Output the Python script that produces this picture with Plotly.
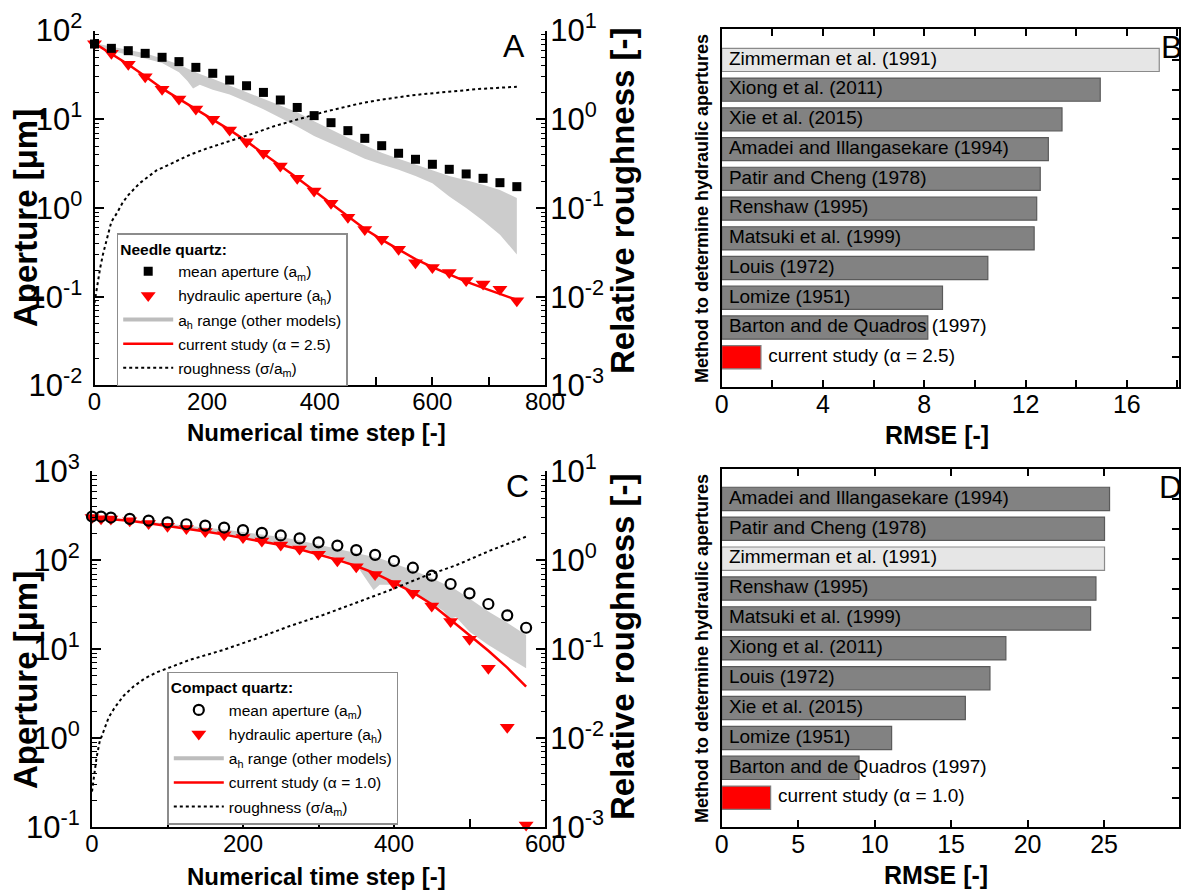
import plotly.graph_objects as go

W, H = 1181, 893
FONT = "Liberation Sans, Arial, sans-serif"


def px(x):
    return x / W


def py(y):
    return 1 - y / H


# ---------------- Panel A (needle quartz) ----------------
a_t = [0, 30, 60, 90, 120, 150, 180, 210, 240, 270, 300, 330, 360, 390, 420,
       450, 480, 510, 540, 570, 600, 630, 660, 690, 720, 750]
a_mean = [70.6, 63.1, 59.4, 55.4, 50.0, 44.7, 38.5, 33.0, 27.7, 23.9, 20.1, 16.5,
          13.6, 11.0, 9.16, 7.45, 6.10, 5.04, 4.14, 3.54, 3.11, 2.73, 2.42, 2.16,
          1.93, 1.74]
a_hyd = [71, 55.5, 41.7, 30.2, 21.8, 16.9, 13.1, 10.0, 7.57, 5.60, 4.13, 2.97,
         2.16, 1.55, 1.13, 0.785, 0.574, 0.443, 0.342, 0.242, 0.214, 0.187,
         0.152, 0.139, 0.121, 0.090]
a_fit = [72, 55, 41.5, 30.5, 22.3, 17.0, 13.0, 10.0, 7.6, 5.65, 4.15, 3.0, 2.18,
         1.57, 1.13, 0.80, 0.58, 0.44, 0.34, 0.265, 0.215, 0.177, 0.148, 0.126,
         0.108, 0.092]
a_band_t = [0, 30, 60, 90, 120, 150, 165, 175, 187, 210, 240, 270, 300, 330, 360,
            390, 420, 450, 480, 510, 540, 570, 600, 630, 660, 690, 720, 750]
a_band_hi = [72, 66, 60, 55.5, 48.5, 41.5, 37.5, 35.2, 32.5, 28.7, 24.2, 20.2,
             17.0, 14.3, 12.0, 9.5, 7.6, 6.2, 5.1, 4.2, 3.6, 3.1, 2.7, 2.3, 2.05,
             1.83, 1.6, 1.30]
a_band_lo = [70, 59, 53, 48.5, 43, 34, 27, 22.3, 24.5, 21.5, 19.0, 15.8, 13.0,
             10.5, 8.3, 6.5, 5.3, 4.4, 3.6, 3.1, 2.7, 2.3, 1.9, 1.35, 1.0, 0.72,
             0.5, 0.30]
a_rough_t = [0, 5, 10, 15, 20, 25, 30, 40, 50, 60, 80, 110, 140, 170, 200, 230,
             260, 290, 320, 350, 380, 410, 440, 470, 500, 530, 560, 590, 620, 650,
             680, 710, 750]
a_rough = [0.0085, 0.014, 0.021, 0.03, 0.041, 0.053, 0.07, 0.088, 0.115, 0.14,
           0.19, 0.265, 0.325, 0.4, 0.47, 0.54, 0.62, 0.72, 0.84, 0.96, 1.08,
           1.22, 1.36, 1.5, 1.63, 1.75, 1.85, 1.94, 2.03, 2.11, 2.19, 2.25, 2.33]

# ---------------- Panel C (compact quartz) ----------------
c_t = [0, 12, 25, 50, 75, 100, 125, 150, 175, 200, 225, 250, 275, 300, 325, 350,
       375, 400, 425, 450, 475, 500, 525, 550, 575]
c_mean = [310, 310, 302, 292, 279, 267, 254, 245, 233, 218, 203, 190, 176, 159,
          146, 130, 115, 98, 82.4, 67, 54, 42.4, 32.2, 24, 17.4]
c_hyd = [303, 292, 290, 278, 258, 241, 227, 210, 194, 180, 164, 148, 134, 117,
         98.8, 84.6, 69.3, 54.9, 42.4, 30.5, 20.4, 12.9, 6.08, 1.32, 0.105]
c_fit_t = [0, 25, 50, 75, 100, 125, 150, 175, 200, 225, 250, 275, 300, 325, 350,
           375, 400, 425, 450, 475, 500, 525, 550, 575]
c_fit = [300, 290, 278, 260, 243, 227, 210, 194, 178, 163, 148, 133, 117, 101,
         86, 71, 56, 43.5, 32, 21.5, 14.5, 9.6, 6.2, 3.8]
c_band_t = [0, 25, 50, 75, 100, 125, 150, 175, 200, 225, 250, 275, 300, 325, 350,
            373, 381, 400, 425, 450, 465, 474, 482, 500, 525, 550, 575]
c_band_hi = [300, 295, 285, 270, 258, 245, 236, 222, 208, 196, 182, 167, 150, 136,
             122, 109, 105, 92, 77, 63, 55, 50, 46.5, 37, 26.5, 19.8, 14.4]
c_band_lo = [296, 288, 276, 259, 243, 228, 212, 196, 181, 167, 153, 138, 121, 105,
             89, 46, 53, 53, 43, 33, 27, 22, 23, 15.7, 11.1, 8.2, 6.1]
c_rough_t = [0, 3, 6, 10, 15, 22, 30, 42, 55, 70, 86, 108, 130, 174, 218, 262, 306,
             350, 395, 439, 483, 527, 575]
c_rough = [0.0025, 0.004, 0.006, 0.009, 0.012, 0.017, 0.022, 0.030, 0.038, 0.047,
           0.055, 0.065, 0.076, 0.098, 0.132, 0.182, 0.242, 0.333, 0.462, 0.653,
           0.883, 1.28, 1.84]

# ---------------- Panel B / D (RMSE) ----------------
b_methods = ["Zimmerman et al. (1991)", "Xiong et al. (2011)", "Xie et al. (2015)",
             "Amadei and Illangasekare (1994)", "Patir and Cheng (1978)",
             "Renshaw (1995)", "Matsuki et al. (1999)", "Louis (1972)",
             "Lomize (1951)", "Barton and de Quadros (1997)",
             "current study (α = 2.5)"]
b_rmse = [17.28, 14.95, 13.44, 12.9, 12.58, 12.44, 12.34, 10.51, 8.72, 8.14, 1.55]

d_methods = ["Amadei and Illangasekare (1994)", "Patir and Cheng (1978)",
             "Zimmerman et al. (1991)", "Renshaw (1995)", "Matsuki et al. (1999)",
             "Xiong et al. (2011)", "Louis (1972)", "Xie et al. (2015)",
             "Lomize (1951)", "Barton and de Quadros (1997)",
             "current study (α = 1.0)"]
d_rmse = [25.36, 25.03, 25.03, 24.47, 24.12, 18.58, 17.54, 15.93, 11.11, 8.98, 3.2]

fig = go.Figure()

BAND = "#cccccc"
RED = "#ff0000"


def add_aperture_panel(xa, ya, yr, leg, t, mean, hyd, fit_t, fit, bt, bhi, blo,
                       rt, rough, mean_marker, alpha_txt):
    fig.add_trace(go.Scatter(x=bt + bt[::-1], y=bhi + blo[::-1], fill="toself",
                             fillcolor=BAND, line=dict(width=0), mode="lines",
                             hoverinfo="skip", showlegend=False, xaxis=xa, yaxis=ya))
    fig.add_trace(go.Scatter(x=rt, y=rough, mode="lines",
                             line=dict(color="black", width=2, dash="dot"),
                             showlegend=False, xaxis=xa, yaxis=yr, cliponaxis=False))
    fig.add_trace(go.Scatter(x=fit_t, y=fit, mode="lines",
                             line=dict(color=RED, width=2.5), showlegend=False,
                             xaxis=xa, yaxis=ya))
    fig.add_trace(go.Scatter(x=t, y=hyd, mode="markers",
                             marker=dict(symbol="triangle-down", size=13, color=RED),
                             showlegend=False, xaxis=xa, yaxis=ya, cliponaxis=False))
    fig.add_trace(go.Scatter(x=t, y=mean, mode="markers", marker=mean_marker,
                             showlegend=False, xaxis=xa, yaxis=ya, cliponaxis=False))
    # legend entries
    common = dict(x=[None], y=[None], xaxis=xa, yaxis=ya, legend=leg)
    fig.add_trace(go.Scatter(mode="markers", marker=mean_marker,
                             name="mean aperture (a<sub>m</sub>)", legendgroup=leg + "1",
                             **common))
    fig.add_trace(go.Scatter(mode="markers",
                             marker=dict(symbol="triangle-down", size=13, color=RED),
                             name="hydraulic aperture (a<sub>h</sub>)",
                             legendgroup=leg + "2", **common))
    fig.add_trace(go.Scatter(mode="lines", line=dict(color="#bdbdbd", width=4),
                             name="a<sub>h</sub> range (other models)",
                             legendgroup=leg + "3", **common))
    fig.add_trace(go.Scatter(mode="lines", line=dict(color=RED, width=2.5),
                             name="current study (α = %s)" % alpha_txt,
                             legendgroup=leg + "4", **common))
    fig.add_trace(go.Scatter(mode="lines",
                             line=dict(color="black", width=2, dash="dot"),
                             name="roughness (σ/a<sub>m</sub>)",
                             legendgroup=leg + "5", **common))


add_aperture_panel("x", "y", "y2", "legend", a_t, a_mean, a_hyd, a_t, a_fit,
                   a_band_t, a_band_hi, a_band_lo, a_rough_t, a_rough,
                   dict(symbol="square", size=9, color="black"), "2.5")
add_aperture_panel("x3", "y4", "y5", "legend2", c_t, c_mean, c_hyd, c_fit_t, c_fit,
                   c_band_t, c_band_hi, c_band_lo, c_rough_t, c_rough,
                   dict(symbol="circle-open", size=10, color="black",
                        line=dict(width=2.2, color="black")), "1.0")


def bar_colors(names):
    fills, lines = [], []
    for n in names:
        if n.startswith("current"):
            fills.append(RED); lines.append("#7f7f7f")
        elif n.startswith("Zimmerman"):
            fills.append("#e6e6e6"); lines.append("#8a8a8a")
        else:
            fills.append("#828282"); lines.append("#5a5a5a")
    return fills, lines


def add_bar_panel(xa, ya, names, vals):
    fills, lines = bar_colors(names)
    fig.add_trace(go.Bar(x=vals, y=names, orientation="h", width=0.78,
                         marker=dict(color=fills, line=dict(color=lines, width=1.2)),
                         showlegend=False, xaxis=xa, yaxis=ya))
    lx = [v if n.startswith("current") else 0 for n, v in zip(names, vals)]
    fig.add_trace(go.Scatter(x=lx, y=names, mode="markers+text", text=names,
                             textposition="middle right",
                             marker=dict(size=10, opacity=0),
                             textfont=dict(size=19, color="black", family=FONT),
                             showlegend=False, xaxis=xa, yaxis=ya, cliponaxis=False,
                             hoverinfo="skip"))


add_bar_panel("x2", "y3", b_methods, b_rmse)
add_bar_panel("x4", "y6", d_methods, d_rmse)


def sup_text(vals):
    return ["10<sup>%d</sup>" % v for v in vals]


def log_axis(lo, hi, **kw):
    exps = list(range(lo, hi + 1))
    minor = [k * 10.0 ** e for e in range(lo, hi) for k in range(2, 10)]
    d = dict(type="log", range=[lo, hi], tickvals=[10.0 ** e for e in exps],
             ticktext=sup_text(exps), ticks="inside", ticklen=9, tickwidth=1.5,
             tickcolor="black",
             minor=dict(tickvals=minor, ticks="inside", ticklen=4.5, tickwidth=1.2,
                        tickcolor="black", showgrid=False),
             showline=True, linewidth=2, linecolor="black", showgrid=False,
             zeroline=False, tickfont=dict(size=31, color="black", family=FONT),
             ticklabelstandoff=4, automargin=False)
    d.update(kw)
    return d


def time_axis(maxv, **kw):
    d = dict(range=[0, maxv], tickvals=list(range(0, maxv + 1, 200)),
             ticks="inside", ticklen=8, tickwidth=1.5, tickcolor="black",
             minor=dict(tickvals=list(range(100, maxv, 200)), ticks="inside",
                        ticklen=8, tickwidth=1.5, tickcolor="black", showgrid=False),
             showline=True, linewidth=2, linecolor="black", showgrid=False,
             zeroline=False, tickfont=dict(size=24, color="black", family=FONT),
             ticklabelstandoff=-6, automargin=False)
    d.update(kw)
    return d


def rmse_axis(maxv, vals, minor_vals, **kw):
    d = dict(range=[0, maxv], tickvals=vals, ticks="inside",
             ticklen=7, tickwidth=1.5, tickcolor="black", showline=True,
             minor=dict(tickvals=minor_vals, ticks="inside", ticklen=7,
                        tickwidth=1.5, tickcolor="black", showgrid=False),
             linewidth=2, linecolor="black", mirror="ticks", showgrid=False,
             zeroline=False, tickfont=dict(size=25, color="black", family=FONT),
             ticklabelstandoff=-6, automargin=False)
    d.update(kw)
    return d


def cat_axis(names, rng, **kw):
    d = dict(type="category", categoryorder="array", categoryarray=names,
             range=rng, side="right", ticks="inside", ticklen=7, tickwidth=1.5,
             tickcolor="black", showticklabels=False, showline=True, linewidth=2,
             linecolor="black", mirror=True, showgrid=False, zeroline=False,
             automargin=False)
    d.update(kw)
    return d


legend_common = dict(xanchor="left", yanchor="top", bgcolor="white",
                     bordercolor="#8c8c8c", borderwidth=1.5,
                     font=dict(size=15.5, color="black", family=FONT),
                     tracegroupgap=1, itemwidth=50, traceorder="grouped")

fig.update_layout(
    width=W, height=H, autosize=False,
    margin=dict(l=0, r=0, t=0, b=0, pad=0, autoexpand=False),
    paper_bgcolor="white", plot_bgcolor="white",
    font=dict(family=FONT, color="black"),
    bargap=0.2,
    xaxis=time_axis(800, domain=[px(94.5), px(545)], anchor="y"),
    yaxis=log_axis(-2, 2, domain=[py(385.4), py(30.6)], anchor="x"),
    yaxis2=log_axis(-3, 1, overlaying="y", side="right", anchor="x",
                    ticklabelstandoff=-3),
    xaxis2=rmse_axis(18.06, [0, 4, 8, 12, 16], [2, 6, 10, 14, 18],
                     domain=[px(721.7), px(1179)], anchor="y3"),
    yaxis3=cat_axis(b_methods, [10.99, -1.03], domain=[py(386.7), py(29.3)],
                    anchor="x2"),
    xaxis3=time_axis(600, domain=[px(92), px(545)], anchor="y4"),
    yaxis4=log_axis(-1, 3, domain=[py(827), py(471.3)], anchor="x3"),
    yaxis5=log_axis(-3, 1, overlaying="y4", side="right", anchor="x3",
                    ticklabelstandoff=-3),
    xaxis4=rmse_axis(29.9, [0, 5, 10, 15, 20, 25], [],
                     domain=[px(721.7), px(1179)], anchor="y6"),
    yaxis6=cat_axis(d_methods, [10.97, -1.0], domain=[py(826.7), py(469)],
                    anchor="x4"),
    legend=dict(x=px(116.7), y=py(233),
                title=dict(text="<b>Needle quartz:</b>",
                           font=dict(size=15.5, color="black", family=FONT)),
                **legend_common),
    legend2=dict(x=px(167.3), y=py(671.7),
                 title=dict(text="<b>Compact quartz:</b>",
                            font=dict(size=15.5, color="black", family=FONT)),
                 **legend_common),
)


def note(text, x, y, size, angle=0, bold=True, xanchor="center"):
    fig.add_annotation(text=("<b>%s</b>" % text) if bold else text,
                       x=px(x), y=py(y), xref="paper", yref="paper",
                       showarrow=False, textangle=angle, xanchor=xanchor,
                       yanchor="middle",
                       font=dict(size=size, color="black", family=FONT))


note("Aperture [μm]", 25, 218, 33, angle=-90)
note("Relative roughness [-]", 622, 201, 33, angle=-90)
note("Numerical time step [-]", 316, 432, 24)
note("Aperture [μm]", 25, 680, 33, angle=-90)
note("Relative roughness [-]", 622, 647, 33, angle=-90)
note("Numerical time step [-]", 316, 876, 24)
note("Method to determine hydraulic apertures", 702, 209, 18, angle=-90)
note("Method to determine hydraulic apertures", 702, 649, 18, angle=-90)
note("RMSE [-]", 937, 435, 25)
note("RMSE [-]", 936, 875, 25)
note("A", 514, 46, 32, bold=False)
note("C", 517, 486, 32, bold=False)
note("B", 1159, 47, 32, bold=False, xanchor="left")
note("D", 1157, 487, 32, bold=False, xanchor="left")

fig.write_html("out.html", config={"displayModeBar": False},
               post_script="document.body.style.margin='0px';"
                           "document.body.style.overflow='hidden';")
